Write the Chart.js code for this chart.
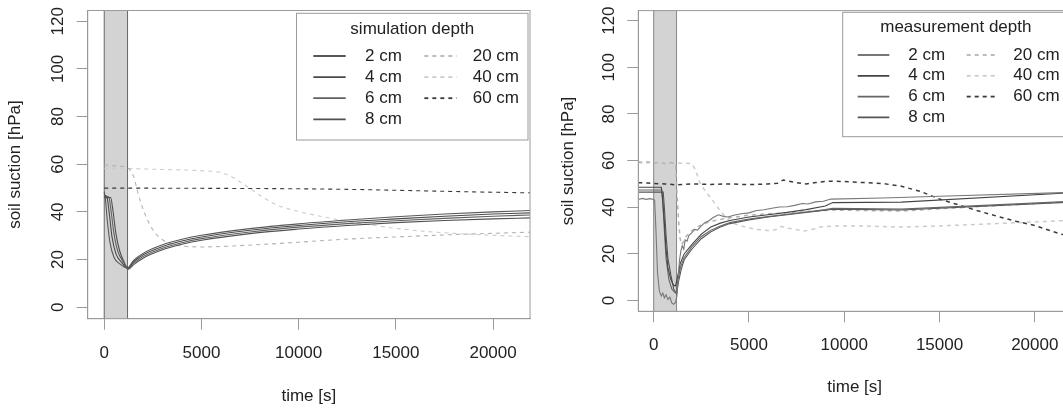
<!DOCTYPE html>
<html>
<head>
<meta charset="utf-8">
<script src="https://cdn.jsdelivr.net/npm/chart.js@4.4.0/dist/chart.umd.min.js"></script>
<style>
  html, body { margin: 0; padding: 0; background: #fff; overflow: hidden; }
  #wrap { position: relative; width: 1063px; height: 409px; overflow: hidden; }
  canvas { position: absolute; top: 0; }
  #left { left: 0; }
  #right { left: 531px; }
</style>
</head>
<body>
<div id="wrap">
  <canvas id="left" width="531" height="409"></canvas>
  <canvas id="right" width="560" height="409"></canvas>
</div>
<script>
// ticks
const xTicks = [0, 5000, 10000, 15000, 20000]
const yTicks = [0, 20, 40, 60, 80, 100, 120]
const depths = ['2 cm', '4 cm', '6 cm', '8 cm', '20 cm', '40 cm', '60 cm']

// irrigation period [s]
const rainStart = 0
const rainEnd = 1200

// simulation: [time s, suction hPa]
const sim2 = [[0,48.5],[60,45.5],[150,37],[300,27],[500,21],[800,18.2],[1200,16.5],[1500,19.6],[2000,22.6],[3000,26.2],[4000,28.5],[5000,30.2],[7500,33],[10000,35],[12500,36.6],[15000,38],[17500,39.1],[20000,40],[21900,40.6]]
const sim4 = [[0,47],[130,46.5],[250,40],[400,29.5],[600,22.5],[900,18.8],[1200,16.4],[1500,19],[2000,22],[3000,25.5],[4000,27.8],[5000,29.5],[7500,32.3],[10000,34.3],[12500,35.9],[15000,37.1],[17500,38.2],[20000,39.1],[21900,39.6]]
const sim6 = [[0,46.5],[230,46.3],[350,40.5],[500,31],[700,23.5],[1000,18.8],[1200,16.2],[1500,18.4],[2000,21.3],[3000,24.8],[4000,27.1],[5000,28.8],[7500,31.6],[10000,33.6],[12500,35.1],[15000,36.3],[17500,37.3],[20000,38.2],[21900,38.7]]
const sim8 = [[0,46],[330,46],[450,40.5],[600,31],[800,23.5],[1050,18.5],[1250,16],[1500,17.8],[2000,20.6],[3000,24.1],[4000,26.4],[5000,28.1],[7500,30.9],[10000,32.8],[12500,34.3],[15000,35.5],[17500,36.4],[20000,37.1],[21900,37.5]]
const sim20 = [[0,59.7],[600,59.3],[1200,58.5],[1500,55],[1800,46],[2100,39],[2500,32.5],[3000,28.3],[3500,26.5],[4000,25.7],[5000,25.3],[6000,25.5],[8000,26.3],[10000,27.3],[12500,28.6],[15000,29.5],[18000,30.5],[21900,31.5]]
const sim40 = [[0,58.3],[1200,58.2],[3000,57.8],[5000,57.3],[6000,56.5],[6500,55],[7000,52.5],[7500,49.8],[8000,47],[8500,44.5],[9000,42.5],[10000,40.2],[12000,36.8],[14000,34.2],[16000,32.2],[18000,31],[20000,30.2],[21900,29.6]]
const sim60 = [[0,50],[5000,49.9],[10000,49.7],[13000,49.4],[16000,48.9],[19000,48.4],[21900,48]]

// measurement: [time s, suction hPa]
const mea2 = [[-807,43.3],[-600,43.8],[-400,43.4],[-200,43.7],[0,43.3],[50,43],[120,30],[200,12],[300,4],[400,2],[480,3.2],[560,1.2],[650,2.5],[750,0.5],[850,1.5],[950,-1],[1050,-1.6],[1150,-0.8],[1220,2],[1280,9],[1350,17],[1420,21],[1500,23.5],[1580,22],[1650,26],[1750,25.5],[1850,28],[2000,29],[2150,30.5],[2300,30.2],[2500,32],[2700,33.5],[2900,34.2],[3100,35.5],[3400,36.8],[3700,36],[3900,35.8],[4200,36.6],[4600,37.2],[5000,37.6],[5400,38.6],[5800,38.9],[6200,39.6],[6600,40.1],[7000,40.2],[7400,40.8],[7800,41.6],[8100,41.4],[8500,42.3],[8900,42.6],[9300,43.5],[12000,44],[15000,44.7],[21900,46.4]]
const mea4 = [[-807,48.6],[0,48.6],[400,48.6],[450,45],[550,35],[650,22],[750,14],[900,9],[1050,6.5],[1150,6.3],[1250,10],[1400,16],[1600,20],[2000,24],[2500,28.5],[3000,31.5],[3500,33.2],[4000,34.3],[5000,35.8],[6000,36.8],[7000,37.8],[8000,39],[9000,40.5],[9400,42],[13000,42.2],[21900,46.2]]
const mea6 = [[-807,47.4],[0,47.4],[420,47.4],[480,42],[560,30],[650,18],[800,9],[950,5],[1100,3.5],[1180,3.2],[1250,8],[1400,14],[1600,18.5],[2000,23],[2500,27.5],[3000,30.2],[3500,32],[4000,33.4],[5000,35],[6000,36],[7000,37],[8000,38],[9000,39],[9400,39.5],[13000,39.2],[21900,42.5]]
const mea8 = [[-807,46.5],[0,46.5],[500,46.5],[560,40],[650,28],[750,18],[900,11],[1050,5],[1200,2.8],[1300,8],[1450,13.5],[1600,17.5],[2000,22],[2500,26.5],[3000,29.5],[3500,31.5],[4000,33],[5000,34.6],[6000,35.8],[7000,36.8],[8000,37.8],[9000,38.7],[9400,39.2],[13000,38.8],[21900,42.2]]
const mea20 = [[-807,59.3],[-500,59],[-300,59.5],[0,58.8],[300,59.4],[600,58.7],[900,59.2],[1150,58.6],[1220,47],[1300,35],[1380,27],[1450,24],[1550,25],[1700,27.5],[2000,30],[2500,32.5],[3000,34],[4000,35.5],[5000,36.6],[6000,37.2],[7000,37.6],[8000,38.2],[9300,38.8],[11000,38.6],[13000,38.4],[16000,39.8],[21900,42.4]]
const mea40 = [[-807,59.5],[-400,59],[0,59.3],[500,58.8],[1000,59],[1500,58.9],[2000,58.7],[2200,56],[2400,51],[2700,47],[3000,44],[3400,39.5],[3800,35.5],[4200,33],[4800,31.5],[5400,30.5],[6000,30],[6400,30.4],[6700,31.8],[7000,31],[7400,30.6],[7900,29.8],[8300,30.5],[8800,31.6],[9500,32],[11000,32],[13000,31.5],[15000,32],[18000,33],[21900,34.4]]
const mea60 = [[-807,50.5],[-300,50.4],[0,50.2],[600,50],[1200,49.6],[2000,50],[3000,49.8],[4000,50],[5000,49.7],[6000,50],[6500,50.3],[6800,51.7],[7100,51.2],[7500,50.5],[8000,50],[8500,50.6],[9200,51.2],[10000,51],[11000,50.6],[12000,50.2],[13000,49],[14000,46.8],[15000,43.5],[16000,41],[17000,38.5],[18000,36.2],[19000,34],[20000,32.2],[20800,30],[21400,28.4],[21900,28]]

const fontFamily = "'Liberation Sans', Arial, sans-serif"
const textColor = '#222'
const frameGray = '#9a9a9a'
const simColors = ['#585858', '#4a4a4a', '#606060', '#505050', '#b4b4b4', '#cccccc', '#3a3a3a']
const meaColors = ['#777777', '#444444', '#666666', '#555555', '#b4b4b4', '#cccccc', '#3a3a3a']
const dashed = [false, false, false, false, true, true, true]

const rainBand = {
  id: 'rainBand',
  beforeDatasetsDraw(chart, args, o) {
    const {ctx, chartArea: a, scales: {x}} = chart
    const x0 = x.getPixelForValue(rainStart)
    const x1 = x.getPixelForValue(rainEnd)
    ctx.save()
    ctx.fillStyle = '#d3d3d3'
    ctx.fillRect(x0, a.top, x1 - x0, a.bottom - a.top)
    ctx.strokeStyle = o.edge
    ctx.lineWidth = 1
    ctx.beginPath()
    ctx.moveTo(x0, a.top); ctx.lineTo(x0, a.bottom)
    ctx.moveTo(x1, a.top); ctx.lineTo(x1, a.bottom)
    ctx.stroke()
    ctx.restore()
  }
}

const plotFrame = {
  id: 'plotFrame',
  afterDatasetsDraw(chart) {
    const {ctx, chartArea: a} = chart
    ctx.save()
    ctx.strokeStyle = frameGray
    ctx.lineWidth = 1
    ctx.strokeRect(a.left, a.top, a.right - a.left, a.bottom - a.top)
    ctx.restore()
  }
}

// two column legend with a title, inside the plot's top right corner
const depthLegend = {
  id: 'depthLegend',
  afterDraw(chart, args, o) {
    const {ctx, chartArea: a} = chart
    const left = a.right - o.right - o.w
    const top = a.top + o.top
    ctx.save()
    ctx.fillStyle = '#fff'
    ctx.fillRect(left, top, o.w, o.h)
    ctx.strokeStyle = frameGray
    ctx.lineWidth = 1
    ctx.strokeRect(left, top, o.w, o.h)
    ctx.font = '17px ' + fontFamily
    ctx.fillStyle = textColor
    ctx.textBaseline = 'middle'
    ctx.textAlign = 'center'
    ctx.fillText(o.title, left + o.w / 2, top + o.titleY)
    ctx.textAlign = 'left'
    chart.data.datasets.forEach((ds, i) => {
      const col = i < 4 ? o.col1 : o.col2
      const row = i < 4 ? i : i - 4
      const y = top + o.row0 + row * o.rowStep
      ctx.strokeStyle = ds.borderColor
      ctx.lineWidth = o.sampleWidth
      ctx.setLineDash(ds.borderDash)
      ctx.beginPath()
      ctx.moveTo(left + col[0], y)
      ctx.lineTo(left + col[1], y)
      ctx.stroke()
      ctx.setLineDash([])
      ctx.fillText(ds.label, left + col[2], y)
    })
    ctx.restore()
  }
}

function makeChart(id, series, cfg) {
  const font = {family: fontFamily, size: 17}
  const datasets = series.map((s, i) => ({
    label: depths[i],
    data: s.map(p => ({x: p[0], y: p[1]})),
    borderColor: cfg.colors[i],
    borderWidth: dashed[i] ? cfg.dashWidth : cfg.lineWidth,
    borderDash: dashed[i] ? [4, 4] : [],
    pointRadius: 0,
    fill: false,
    tension: cfg.smooth ? 0.4 : 0,
    cubicInterpolationMode: cfg.smooth ? 'monotone' : 'default'
  }))

  return new Chart(document.getElementById(id), {
    type: 'line',
    data: {datasets},
    plugins: [rainBand, plotFrame, depthLegend],
    options: {
      responsive: false,
      animation: false,
      events: [],
      layout: {padding: cfg.pad},
      plugins: {
        legend: {display: false},
        tooltip: {enabled: false},
        rainBand: {edge: cfg.bandEdge},
        depthLegend: cfg.legend
      },
      scales: {
        x: {
          type: 'linear',
          min: cfg.xMin,
          max: cfg.xMax,
          afterBuildTicks: s => { s.ticks = xTicks.map(v => ({value: v})) },
          afterFit: s => { s.height = 90; s.paddingLeft = 0; s.paddingRight = 0 },
          grid: {drawOnChartArea: false, tickLength: 11, color: frameGray},
          border: {color: frameGray},
          ticks: {autoSkip: false, maxRotation: 0, padding: cfg.xTickPad, color: textColor, font, callback: v => String(v)},
          title: {display: true, text: 'time [s]', color: textColor, font, padding: {top: 0, bottom: cfg.xTitlePad}}
        },
        y: {
          type: 'linear',
          min: cfg.yMin,
          max: cfg.yMax,
          afterBuildTicks: s => { s.ticks = yTicks.map(v => ({value: v})) },
          afterFit: s => { s.width = cfg.yWidth; s.paddingTop = 0; s.paddingBottom = 0 },
          grid: {drawOnChartArea: false, tickLength: 11, color: frameGray},
          border: {color: frameGray},
          ticks: {autoSkip: false, minRotation: 90, maxRotation: 90, crossAlign: 'center', padding: 4.2, color: textColor, font, callback: v => String(v)},
          title: {display: true, text: 'soil suction [hPa]', color: textColor, font, padding: {top: cfg.yTitlePad, bottom: 0}}
        }
      }
    }
  })
}

makeChart('left', [sim2, sim4, sim6, sim8, sim20, sim40, sim60], {
  smooth: true,
  colors: simColors,
  lineWidth: 1.1,
  dashWidth: 1.1,
  bandEdge: '#666',
  pad: {left: 0, right: 1, top: 10.5, bottom: 0.3},
  yWidth: 87.7,
  xMin: -850, xMax: 21900,
  yMin: -4.8, yMax: 124.5,
  xTickPad: 13.8,
  xTitlePad: 2,
  yTitlePad: 4.8,
  legend: {
    title: 'simulation depth',
    w: 231.5, h: 126.7, right: 2, top: 2.8,
    titleY: 16.2, row0: 42.7, rowStep: 21.1,
    col1: [16.8, 49.2, 68.5], col2: [127.8, 160.2, 176.2],
    sampleWidth: 1.8
  }
})

makeChart('right', [mea2, mea4, mea6, mea8, mea20, mea40, mea60], {
  smooth: false,
  colors: meaColors,
  lineWidth: 1.1,
  dashWidth: 1.5,
  bandEdge: '#888',
  pad: {left: 0, right: 20, top: 10.6, bottom: 7.7},
  yWidth: 107.3,
  xMin: -807, xMax: 21900,
  yMin: -4.6, yMax: 124.3,
  xTickPad: 13,
  xTitlePad: 3.6,
  yTitlePad: 27.1,
  legend: {
    title: 'measurement depth',
    w: 226.3, h: 124.4, right: 2, top: 1.7,
    titleY: 15.4, row0: 42.7, rowStep: 20.8,
    col1: [15, 46.6, 65.6], col2: [124, 155.6, 170.6],
    sampleWidth: 1.8
  }
})
</script>
</body>
</html>
